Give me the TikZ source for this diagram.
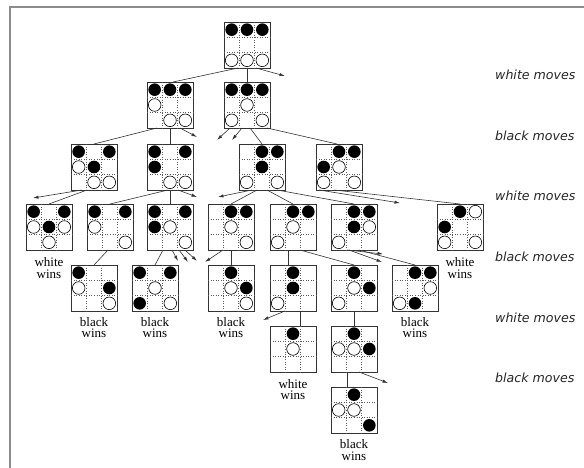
\documentclass[tikz,border=0pt]{standalone}
\usepackage{fontspec}
\setmainfont{Liberation Serif}
\newfontfamily\movefont{DejaVu Sans}
\usetikzlibrary{arrows.meta,positioning}

\newcommand{\cellw}{15.33}
%% one board: name, centre, black pawns, white pawns (col/row, row 1 on top)
\newcommand{\hexboard}[4]{%
  \node[board] (#1) at (#2) {};
  \begin{scope}[shift={(#1.north west)}]
    \foreach \k in {1,2} {
      \draw[cellline] (\k*\cellw,0) -- (\k*\cellw,46);
      \draw[cellline] (0,\k*\cellw) -- (46,\k*\cellw);
    }
    \foreach \c/\r in {#3} \fill[blackpawn] ({(\c-0.5)*\cellw},{(\r-0.5)*\cellw}) circle (6.3pt);
    \foreach \c/\r in {#4} \filldraw[whitepawn] ({(\c-0.5)*\cellw},{(\r-0.5)*\cellw}) circle (6.3pt);
  \end{scope}}

\begin{document}
\begin{tikzpicture}[x=1pt,y=-1pt,
  board/.style={draw=black!80,line width=0.9pt,minimum size=46pt,inner sep=0pt,outer sep=0pt},
  cellline/.style={black!65,dotted,line width=0.55pt},
  blackpawn/.style={black},
  whitepawn/.style={fill=white,draw=black,line width=0.6pt},
  move/.style={black!80,line width=0.6pt},
  unexplored/.style={move,-{Latex[length=5.5pt,width=3.2pt]}},
  winlabel/.style={align=center,inner sep=0pt,font=\fontsize{13}{11.5}\selectfont},
  turnlabel/.style={anchor=west,inner sep=0pt,text=black!85,font=\movefont\itshape\fontsize{12.6}{14}\selectfont}]
  \useasboundingbox (0,0) rectangle (584,468);
  \draw[black!45,line width=1.6pt] (10,468) -- (10,7) -- (584,7);

  %% the boards, level by level
  \hexboard{p0}{247,45}{1/1,2/1,3/1}{1/3,2/3,3/3}
  \hexboard{p1a}{170,105}{1/1,2/1,3/1}{1/2,2/3,3/3}
  \hexboard{p1b}{247,105}{1/1,2/1,3/1}{2/2,1/3,3/3}
  \hexboard{p2a}{94,167}{1/1,3/1,2/2}{1/2,2/3,3/3}
  \hexboard{p2b}{170,167}{1/1,3/1,1/2}{2/3,3/3}
  \hexboard{p2c}{262,167}{2/1,3/1,2/2}{1/3,3/3}
  \hexboard{p2d}{339,167}{2/1,3/1,1/2}{2/2,1/3,3/3}
  \hexboard{p3a}{49,227}{1/1,3/1,2/2}{1/2,3/2,2/3}
  \hexboard{p3b}{110,227}{1/1,3/1}{1/2,3/3}
  \hexboard{p3c}{170,227}{1/1,3/1,1/2}{2/2,3/3}
  \hexboard{p3d}{231,227}{2/1,3/1}{2/2,3/3}
  \hexboard{p3e}{293,227}{2/1,3/1}{2/2,1/3}
  \hexboard{p3f}{354,227}{2/1,3/1,2/2}{3/2,1/3}
  \hexboard{p3g}{460,227}{2/1,1/2}{3/1,1/3,3/3}
  \hexboard{p4a}{94,288}{1/1,3/2}{1/2,3/3}
  \hexboard{p4b}{155,288}{1/1,3/1,1/3}{2/2,3/3}
  \hexboard{p4c}{231,288}{2/1,3/2}{2/2,3/3}
  \hexboard{p4d}{293,288}{2/1,2/2}{1/3}
  \hexboard{p4e}{354,288}{2/1,3/2}{2/2,1/3}
  \hexboard{p4f}{415,288}{2/1,3/1,2/3}{3/2,1/3}
  \hexboard{p5a}{293,349}{2/1}{2/2}
  \hexboard{p5b}{354,349}{2/1,3/2}{1/2,2/2}
  \hexboard{p6a}{354,410}{2/1,3/3}{1/2,2/2}

  %% loose ends of moves that are not followed
  \coordinate (u0) at (285,76);
  \coordinate (u1a) at (197,137);
  \coordinate (u1b) at (217,140);
  \coordinate (u1c) at (232,140);
  \coordinate (u2a) at (33,198);
  \coordinate (u2b) at (197,197);
  \coordinate (u2c) at (218,197);
  \coordinate (u2d) at (400,203);
  \coordinate (u3a) at (178,261);
  \coordinate (u3b) at (188,262);
  \coordinate (u3c) at (197,261);
  \coordinate (u3d) at (205,262);
  \coordinate (u3e) at (383,254);
  \coordinate (u3f) at (382,262);
  \coordinate (u4a) at (263,320);
  \coordinate (u5a) at (388,383);

  %% moves
  \draw[move] ([xshift=-9pt]p0.south) -- ([xshift=3pt]p1a.north);
  \draw[move] (p0.south) -- (p1b.north);
  \draw[unexplored] ([xshift=9pt]p0.south) -- (u0);

  \draw[move] ([xshift=-13pt]p1a.south) -- (p2a.north);
  \draw[move] (p1a.south) -- (p2b.north);
  \draw[unexplored] ([xshift=10pt]p1a.south) -- (u1a);
  \draw[unexplored] ([xshift=-17pt]p1b.south) -- (u1b);
  \draw[unexplored] ([xshift=-5pt]p1b.south) -- (u1c);
  \draw[move] ([xshift=3pt]p1b.south) -- (p2c.north);
  \draw[move] ([xshift=20pt]p1b.south) -- ([xshift=-2pt]p2d.north);

  \draw[unexplored] ([xshift=-12pt]p2a.south) -- (u2a);
  \draw[move] ([xshift=-7pt]p2a.south) -- (p3a.north);
  \draw[move] ([xshift=-2pt]p2b.south) -- (p3b.north);
  \draw[move] (p2b.south) -- (p3c.north);
  \draw[unexplored] ([xshift=8pt]p2b.south) -- (u2b);
  \draw[unexplored] ([xshift=-10pt]p2c.south) -- (u2c);
  \draw[move] ([xshift=-5pt]p2c.south) -- (p3d.north);
  \draw[move] ([xshift=5pt]p2c.south) -- (p3e.north);
  \draw[move] ([xshift=15pt]p2c.south) -- (p3f.north);
  \draw[unexplored] ([xshift=-20pt]p2d.south) -- (u2d);
  \draw[move] ([xshift=-5pt]p2d.south) -- (p3g.north);

  \draw[move] ([xshift=-2pt]p3b.south) -- (p4a.north);
  \draw[move] ([xshift=-7pt]p3c.south) -- (p4b.north);
  \draw[unexplored] ([xshift=2pt]p3c.south) -- (u3a);
  \draw[unexplored] ([xshift=9pt]p3c.south) -- (u3b);
  \draw[unexplored] ([xshift=15pt]p3c.south) -- (u3c);
  \draw[unexplored] ([xshift=-8pt]p3d.south) -- (u3d);
  \draw[move] (p3d.south) -- (p4c.north);
  \draw[move] ([xshift=-5pt]p3e.south) -- ([xshift=-5pt]p4d.north);
  \draw[move] ([xshift=7pt]p3e.south) -- (p4e.north);
  \draw[unexplored] ([xshift=-7pt]p3f.south) -- (u3e);
  \draw[unexplored] ([xshift=-5pt]p3f.south) -- (u3f);
  \draw[move] ([xshift=5pt]p3f.south) -- (p4f.north);

  \draw[unexplored] ([xshift=-8pt]p4d.south) -- (u4a);
  \draw[move] ([xshift=7pt]p4d.south) -- ([xshift=7pt]p5a.north);
  \draw[move] (p4e.south) -- (p5b.north);
  \draw[move] ([xshift=-7pt]p5b.south) -- ([xshift=-7pt]p6a.north);
  \draw[unexplored] ([xshift=5pt]p5b.south) -- (u5a);

  %% outcomes under the final boards
  \node[winlabel,below=7.5pt of p3a] (w3a) {white\\wins};
  \node[winlabel,below=7.5pt of p3g] (w3g) {white\\wins};
  \node[winlabel,below=6pt of p4a] (w4a) {black\\wins};
  \node[winlabel,below=6pt of p4b] (w4b) {black\\wins};
  \node[winlabel,below=6pt of p4c] (w4c) {black\\wins};
  \node[winlabel,below=6pt of p4f] (w4f) {black\\wins};
  \node[winlabel,below=7pt of p5a] (w5a) {white\\wins};
  \node[winlabel,below=6.5pt of p6a] (w6a) {black\\wins};

  %% whose turn, one row per level
  \node[turnlabel] (t0) at (495,75) {white moves};
  \node[turnlabel] (t1) at (495,136) {black moves};
  \node[turnlabel] (t2) at (495,196) {white moves};
  \node[turnlabel] (t3) at (495,257) {black moves};
  \node[turnlabel] (t4) at (495,318) {white moves};
  \node[turnlabel] (t5) at (495,378) {black moves};
\end{tikzpicture}
\end{document}
